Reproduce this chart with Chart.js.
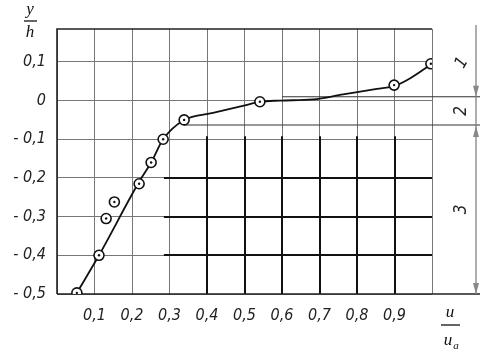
<!DOCTYPE html>
<html>
<head>
<meta charset="utf-8">
<script src="https://cdn.jsdelivr.net/npm/chart.js@4.4.1/dist/chart.umd.min.js"></script>
<style>
  html, body { margin: 0; padding: 0; background: #fff; }
  #wrap { width: 491px; height: 354px; }
</style>
</head>
<body>
<div id="wrap"><canvas id="chart" width="491" height="354"></canvas></div>
<script>
// measured points (u/ua, y/h)
const pointX = [0.053, 0.112, 0.131, 0.153, 0.219, 0.251, 0.283, 0.339, 0.541, 0.899, 0.997];
const pointY = [-0.497, -0.400, -0.305, -0.262, -0.215, -0.160, -0.100, -0.050, -0.003, 0.040, 0.095];

// fitted curve as drawn on the sheet
const curveX = [0.053, 0.112, 0.219, 0.251, 0.283, 0.339, 0.416, 0.507, 0.541, 0.595, 0.683, 0.763, 0.853, 0.901, 0.941, 1.0];
const curveY = [-0.497, -0.400, -0.210, -0.160, -0.100, -0.050, -0.032, -0.011, -0.003, 0.000, 0.003, 0.016, 0.030, 0.038, 0.057, 0.095];

const xTicks = [0, 0.1, 0.2, 0.3, 0.4, 0.5, 0.6, 0.7, 0.8, 0.9, 1.0];
const xTickLabels = ['', '0,1', '0,2', '0,3', '0,4', '0,5', '0,6', '0,7', '0,8', '0,9', ''];
const yTicks = [-0.5, -0.4, -0.3, -0.2, -0.1, 0, 0.1];
const yTickLabels = ['- 0,5', '- 0,4', '- 0,3', '- 0,2', '- 0,1', '0', '0,1'];

// zone boundaries on the right and the zone names
const zoneBounds = [0.01, -0.063];
const zoneStartX = [0.6, 0.339];
const zoneLabels = ['1', '2', '3'];

// heavy grid in zone 3
const boldX = [0.4, 0.5, 0.6, 0.7, 0.8, 0.9];
const boldY = [-0.2, -0.3, -0.4];

const tickFont = { family: '"Liberation Sans Narrow", "DejaVu Sans Condensed", sans-serif', size: 16, style: 'italic' };

const extras = {
    id: 'extras',
    beforeDatasetsDraw(chart) {
        const ctx = chart.ctx;
        const a = chart.chartArea;
        const xs = chart.scales.x;
        const ys = chart.scales.y;
        const ext = a.right + 48;
        ctx.save();

        // heavy grid lines
        ctx.strokeStyle = '#111';
        ctx.lineWidth = 2;
        boldX.forEach(v => {
            const px = Math.round(xs.getPixelForValue(v));
            ctx.beginPath();
            ctx.moveTo(px, ys.getPixelForValue(-0.1) - 3);
            ctx.lineTo(px, a.bottom);
            ctx.stroke();
        });
        boldY.forEach(v => {
            const py = Math.round(ys.getPixelForValue(v));
            ctx.beginPath();
            ctx.moveTo(xs.getPixelForValue(0.285), py);
            ctx.lineTo(a.right, py);
            ctx.stroke();
        });

        // frame
        ctx.strokeStyle = '#222';
        ctx.lineWidth = 1.6;
        ctx.beginPath();
        ctx.moveTo(a.left, a.bottom);
        ctx.lineTo(a.left, a.top);
        ctx.lineTo(a.right, a.top);
        ctx.moveTo(a.left, a.bottom);
        ctx.lineTo(ext, a.bottom);
        ctx.stroke();

        // zone boundaries
        ctx.strokeStyle = '#333';
        ctx.lineWidth = 1.1;
        zoneBounds.forEach((v, i) => {
            const py = ys.getPixelForValue(v);
            ctx.beginPath();
            ctx.moveTo(xs.getPixelForValue(zoneStartX[i]), py);
            ctx.lineTo(ext, py);
            ctx.stroke();
        });

        // dimension line with arrows
        const dx = a.right + 44;
        ctx.strokeStyle = '#777';
        ctx.lineWidth = 1.2;
        ctx.beginPath();
        ctx.moveTo(dx, a.top - 4);
        ctx.lineTo(dx, a.bottom);
        ctx.stroke();
        const arrow = (y, dir) => {
            ctx.fillStyle = '#888';
            ctx.beginPath();
            ctx.moveTo(dx, y);
            ctx.lineTo(dx - 3, y - dir * 11);
            ctx.lineTo(dx + 3, y - dir * 11);
            ctx.closePath();
            ctx.fill();
        };
        arrow(ys.getPixelForValue(zoneBounds[0]), 1);
        arrow(ys.getPixelForValue(zoneBounds[1]) + 1, -1);
        arrow(a.bottom, 1);

        // zone labels
        const edges = [a.top, ys.getPixelForValue(zoneBounds[0]), ys.getPixelForValue(zoneBounds[1]), a.bottom];
        ctx.fillStyle = '#222';
        ctx.font = 'italic 17px "Liberation Sans Narrow", "DejaVu Sans Condensed", sans-serif';
        ctx.textAlign = 'center';
        ctx.textBaseline = 'middle';
        zoneLabels.forEach((t, i) => {
            ctx.save();
            ctx.translate(dx - 14, (edges[i] + edges[i + 1]) / 2);
            ctx.rotate(-Math.PI / 2 + (i === 0 ? 0.5 : 0));
            ctx.fillText(t, 0, 0);
            ctx.restore();
        });

        // axis titles
        ctx.font = 'italic 17px "Liberation Serif", "DejaVu Serif", serif';
        ctx.fillStyle = '#111';
        ctx.fillText('y', 30, 10);
        ctx.fillText('h', 30, 33);
        ctx.fillText('u', 450, 313);
        ctx.fillText('u', 448, 341);
        ctx.font = 'italic 11px "Liberation Serif", "DejaVu Serif", serif';
        ctx.fillText('a', 456, 346);
        ctx.strokeStyle = '#333';
        ctx.lineWidth = 1.3;
        ctx.beginPath();
        ctx.moveTo(24, 21); ctx.lineTo(37, 21);
        ctx.moveTo(441, 325); ctx.lineTo(460, 325);
        ctx.stroke();

        ctx.restore();
    }
};

new Chart(document.getElementById('chart'), {
    type: 'scatter',
    data: {
        datasets: [
            {
                label: 'curve',
                data: curveX.map((x, i) => ({ x: x, y: curveY[i] })),
                showLine: true,
                borderColor: '#111',
                borderWidth: 1.8,
                pointRadius: 0,
                cubicInterpolationMode: 'monotone',
                order: 3
            },
            {
                label: 'points',
                data: pointX.map((x, i) => ({ x: x, y: pointY[i] })),
                pointRadius: 5,
                pointBackgroundColor: '#fff',
                pointBorderColor: '#111',
                pointBorderWidth: 1.6,
                order: 2
            },
            {
                label: 'dots',
                data: pointX.map((x, i) => ({ x: x, y: pointY[i] })),
                pointRadius: 1.2,
                pointBackgroundColor: '#111',
                pointBorderWidth: 0,
                order: 1
            }
        ]
    },
    options: {
        responsive: false,
        animation: false,
        layout: { padding: { top: 29, right: 59, left: 0, bottom: 0 } },
        plugins: { legend: { display: false }, tooltip: { enabled: false } },
        scales: {
            x: {
                type: 'linear',
                min: 0,
                max: 1,
                afterBuildTicks: s => { s.ticks = xTicks.map(v => ({ value: v })); },
                afterFit: s => { s.height = 60; },
                ticks: {
                    autoSkip: false,
                    maxRotation: 0,
                    padding: 12,
                    color: '#222',
                    font: tickFont,
                    callback: v => {
                        const i = xTicks.findIndex(t => Math.abs(t - v) < 1e-6);
                        return i >= 0 ? xTickLabels[i] : '';
                    }
                },
                grid: { color: '#777', lineWidth: 1, drawTicks: false },
                border: { display: false }
            },
            y: {
                type: 'linear',
                min: -0.5,
                max: 0.185,
                afterBuildTicks: s => { s.ticks = yTicks.map(v => ({ value: v })); },
                afterFit: s => { s.width = 57; },
                ticks: {
                    autoSkip: false,
                    padding: 11,
                    color: '#222',
                    font: tickFont,
                    callback: v => {
                        const i = yTicks.findIndex(t => Math.abs(t - v) < 1e-6);
                        return i >= 0 ? yTickLabels[i] : '';
                    }
                },
                grid: { color: '#777', lineWidth: 1, drawTicks: false },
                border: { display: false }
            }
        }
    },
    plugins: [extras]
});
</script>
</body>
</html>
